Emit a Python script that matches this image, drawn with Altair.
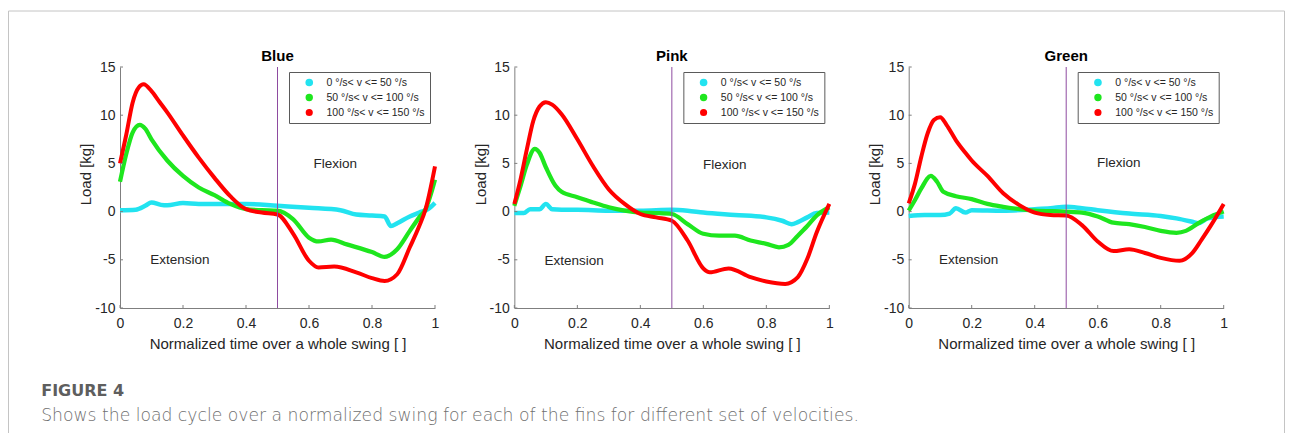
import altair as alt
import pandas as pd

# ---------------- data ----------------
FINS = ["Blue", "Pink", "Green"]
SERIES = ["0 °/s< v <= 50 °/s", "50 °/s< v <= 100 °/s", "100 °/s< v <= 150 °/s"]
COLORS = ["#22e3f0", "#1ee61e", "#ff0000"]
WIDTHS = [4.5, 4, 4]

# Blue fin
blue_slow_x = [0, .05, .08, .1, .13, .15, .2, .25, .3, .4, .5, .6, .7, .75, .8, .84, .86, .88, .92, .95, .98, 1.0]
blue_slow_y = [0.15, 0.2, 0.6, 0.95, 0.7, 0.65, 0.9, 0.8, 0.8, 0.8, 0.6, 0.4, 0.15, -0.3, -0.4, -0.5, -1.5, -1.2, -0.5, -0.1, 0.3, 0.9]
blue_mid_x = [0, .02, .04, .063, .08, .1, .15, .2, .25, .3, .35, .4, .45, .5, .55, .6, .63, .67, .72, .8, .84, .88, .92, .95, .97, 1.0]
blue_mid_y = [3.1, 6.0, 8.2, 9.0, 8.6, 7.5, 5.3, 3.7, 2.5, 1.7, 0.8, 0.25, 0.15, 0.1, -0.8, -2.7, -3.1, -2.9, -3.4, -4.2, -4.7, -3.9, -2.0, -0.6, 0.25, 3.3]
blue_fast_x = [0, .02, .04, .06, .075, .1, .125, .15, .2, .25, .3, .35, .4, .45, .5, .55, .6, .63, .68, .75, .8, .84, .88, .92, .95, .97, 1.0]
blue_fast_y = [5.0, 8.0, 11.3, 12.9, 13.2, 12.5, 11.4, 10.3, 7.9, 5.6, 3.5, 1.6, 0.25, -0.1, -0.3, -2.3, -5.1, -5.8, -5.7, -6.3, -6.9, -7.2, -6.5, -3.7, -1.5, 0.25, 4.7]

# Pink fin
pink_slow_x = [0, .03, .05, .08, .1, .12, .15, .2, .3, .4, .5, .55, .6, .7, .8, .85, .88, .9, .93, .96, 1.0]
pink_slow_y = [-0.15, -0.15, 0.25, 0.25, 0.8, 0.25, 0.2, 0.2, 0.1, 0.1, 0.2, 0.1, -0.1, -0.35, -0.6, -0.95, -1.3, -1.1, -0.6, -0.15, -0.1]
pink_mid_x = [0, .02, .04, .065, .08, .1, .13, .15, .2, .25, .3, .35, .4, .45, .5, .55, .6, .65, .7, .75, .8, .84, .87, .9, .93, .96, 1.0]
pink_mid_y = [0.6, 2.7, 4.9, 6.5, 6.1, 4.6, 2.7, 2.05, 1.5, 0.95, 0.45, 0.1, -0.1, -0.15, -0.25, -1.3, -2.3, -2.5, -2.5, -3.0, -3.35, -3.7, -3.45, -2.5, -1.5, -0.4, 0.45]
pink_fast_x = [0, .02, .04, .06, .08, .1, .12, .15, .2, .25, .3, .35, .4, .45, .5, .55, .6, .62, .68, .75, .8, .86, .9, .93, .96, 1.0]
pink_fast_y = [0.8, 3.4, 6.5, 9.4, 10.9, 11.35, 11.1, 10.1, 7.5, 4.7, 2.3, 0.8, -0.25, -0.6, -0.95, -3.0, -5.9, -6.3, -5.9, -6.8, -7.25, -7.5, -6.8, -4.9, -2.15, 0.8]

# Green fin
green_slow_x = [0, .05, .1, .13, .15, .18, .2, .3, .4, .45, .5, .55, .6, .7, .8, .85, .9, .92, .95, 1.0]
green_slow_y = [-0.45, -0.35, -0.35, -0.2, 0.35, -0.1, 0.15, 0.1, 0.25, 0.35, 0.5, 0.35, 0.15, -0.2, -0.45, -0.7, -1.05, -1.2, -0.7, -0.5]
green_mid_x = [0, .02, .04, .07, .09, .11, .15, .2, .25, .3, .4, .5, .55, .6, .65, .7, .75, .8, .85, .88, .92, .96, 1.0]
green_mid_y = [0.1, 1.2, 2.4, 3.7, 3.1, 2.05, 1.6, 1.3, 0.8, 0.5, 0.1, 0.0, -0.1, -0.5, -1.15, -1.3, -1.6, -2.0, -2.2, -2.0, -1.2, -0.5, 0.0]
green_fast_x = [0, .02, .04, .06, .08, .1, .12, .15, .18, .2, .25, .3, .35, .4, .45, .5, .55, .6, .65, .7, .75, .8, .86, .9, .93, .96, 1.0]
green_fast_y = [0.85, 2.9, 5.7, 8.1, 9.5, 9.8, 9.0, 7.4, 6.1, 5.3, 3.7, 1.9, 0.7, -0.1, -0.35, -0.4, -1.4, -3.1, -4.1, -3.9, -4.3, -4.8, -5.1, -4.3, -2.9, -1.4, 0.8]

CURVES = {
    "Blue": [(blue_slow_x, blue_slow_y), (blue_mid_x, blue_mid_y), (blue_fast_x, blue_fast_y)],
    "Pink": [(pink_slow_x, pink_slow_y), (pink_mid_x, pink_mid_y), (pink_fast_x, pink_fast_y)],
    "Green": [(green_slow_x, green_slow_y), (green_mid_x, green_mid_y), (green_fast_x, green_fast_y)],
}

X_TICKS = [0, 0.2, 0.4, 0.6, 0.8, 1]
Y_TICKS = [-10, -5, 0, 5, 10, 15]
PHASE_SWITCH = [0.5]
ANNOT_LABELS = ["Flexion", "Extension"]
ANNOT_X = {"Blue": [0.683, 0.19], "Pink": [0.668, 0.19], "Green": [0.667, 0.19]}
ANNOT_Y = {"Blue": [4.9, -5.0], "Pink": [4.85, -5.1], "Green": [5.0, -5.0]}

X_TITLE = "Normalized time over a whole swing [ ]"
Y_TITLE = "Load [kg]"
CAPTION_TITLE = "FIGURE 4"
CAPTION_TEXT = "Shows the load cycle over a normalized swing for each of the fins for different set of velocities."

# ---------------- chart ----------------
W, H = 315, 241
FONT = "Liberation Sans"
AX = "#7f7f7f"
TXT = "#262626"
BORDER = "#c4c4c4"
SWITCH_COLOR = "#8e4ba0"

# figure frame / caption, placed relative to the first panel's plot origin
FR_L, FR_T, FR_R, FR_B = -111.5, -56, 1164.5, 366
CAP_X, CAP1_Y, CAP2_Y = -78.8, 324, 349

# legend dots filled with the series colour
SYMBOL_FILL = "[{}][indexof([{}], datum.value)]".format(
    ", ".join("'%s'" % c for c in COLORS), ", ".join("'%s'" % s for s in SERIES))


def panel(fin, with_frame=False):
    rows = []
    for name, (xs, ys) in zip(SERIES, CURVES[fin]):
        for xv, yv in zip(xs, ys):
            rows.append({"series": name, "x": xv, "y": yv})
    df = pd.DataFrame(rows)
    xsc = alt.Scale(domain=[0, 1], nice=False, zero=False)
    ysc = alt.Scale(domain=[-10, 15], nice=False, zero=False)

    lines = alt.Chart(df).mark_line(interpolate="monotone").encode(
        x=alt.X("x:Q", scale=xsc, axis=alt.Axis(
            values=X_TICKS, format="~g", title=X_TITLE, ticks=False, grid=False,
            domainColor=AX, labelFont=FONT, labelFontSize=14, labelColor=TXT,
            labelPadding=8, labelFlush=False, titleFont=FONT, titleFontSize=15,
            titleFontWeight="normal", titleColor=TXT, titlePadding=6)),
        y=alt.Y("y:Q", scale=ysc, axis=alt.Axis(
            values=Y_TICKS, labelExpr="'' + datum.value", title=Y_TITLE,
            ticks=False, grid=False,
            domainColor=AX, labelFont=FONT, labelFontSize=14, labelColor=TXT,
            labelPadding=5, labelFlush=False, titleFont=FONT, titleFontSize=15,
            titleFontWeight="normal", titleColor=TXT, titlePadding=1, titleY=107)),
        color=alt.Color("series:N", sort=SERIES,
                        scale=alt.Scale(domain=SERIES, range=COLORS),
                        legend=alt.Legend(
                            title=None, orient="top-right", offset=5,
                            strokeColor="#5a5a5a", fillColor="white", padding=5,
                            labelFont=FONT, labelFontSize=10.5, labelColor=TXT,
                            symbolType="circle", symbolSize=10, symbolStrokeWidth=0,
                            symbolFillColor=alt.ExprRef(SYMBOL_FILL),
                            symbolOffset=10, labelOffset=12, rowPadding=4,
                            clipHeight=11)),
        strokeWidth=alt.StrokeWidth("series:N", sort=SERIES,
                                    scale=alt.Scale(domain=SERIES, range=WIDTHS),
                                    legend=None),
    )

    vline = alt.Chart(pd.DataFrame({"x": PHASE_SWITCH})).mark_rule(
        color=SWITCH_COLOR, strokeWidth=1).encode(x=alt.X("x:Q", scale=xsc))

    ann = pd.DataFrame({"label": ANNOT_LABELS, "x": ANNOT_X[fin], "y": ANNOT_Y[fin]})
    texts = alt.Chart(ann).mark_text(font=FONT, fontSize=13.5, color=TXT).encode(
        x=alt.X("x:Q", scale=xsc), y=alt.Y("y:Q", scale=ysc), text="label:N")

    xt = alt.Chart(pd.DataFrame({"x": X_TICKS})).mark_rule(color=AX, strokeWidth=1).encode(
        x=alt.X("x:Q", scale=xsc), y=alt.value(H), y2=alt.value(H - 3))
    yt = alt.Chart(pd.DataFrame({"y": Y_TICKS})).mark_rule(color=AX, strokeWidth=1).encode(
        y=alt.Y("y:Q", scale=ysc), x=alt.value(0), x2=alt.value(3))

    title = alt.Chart(pd.DataFrame({"t": [fin]})).mark_text(
        font=FONT, fontSize=15, fontWeight="bold", color="#000000",
        baseline="alphabetic", align="center").encode(
        x=alt.value(W / 2), y=alt.value(-6), text="t:N")

    layers = [lines, vline, texts, xt, yt, title]
    if with_frame:
        one = pd.DataFrame({"k": [0]})
        layers += [
            alt.Chart(one).mark_rule(color=BORDER, strokeWidth=1).encode(
                x=alt.value(FR_L), y=alt.value(FR_T), y2=alt.value(FR_B)),
            alt.Chart(one).mark_rule(color=BORDER, strokeWidth=1).encode(
                x=alt.value(FR_L), x2=alt.value(FR_R), y=alt.value(FR_T)),
            alt.Chart(one).mark_rule(color=BORDER, strokeWidth=1).encode(
                x=alt.value(FR_R), y=alt.value(FR_T), y2=alt.value(FR_B)),
            alt.Chart(pd.DataFrame({"t": [CAPTION_TITLE]})).mark_text(
                align="left", baseline="middle", font="DejaVu Sans", fontSize=16,
                fontWeight="bold", color="#5e5e5e").encode(
                x=alt.value(CAP_X), y=alt.value(CAP1_Y), text="t:N"),
            alt.Chart(pd.DataFrame({"t": [CAPTION_TEXT]})).mark_text(
                align="left", baseline="middle", font="DejaVu Sans", fontSize=17.2,
                fontWeight=300, color="#707070").encode(
                x=alt.value(CAP_X), y=alt.value(CAP2_Y), text="t:N"),
        ]

    return alt.layer(*layers).properties(width=W, height=H)


p1 = panel("Blue", with_frame=True)
p2 = panel("Pink")
p3 = panel("Green")

chart = alt.hconcat(p1, p2, p3, spacing=79.35, bounds="flush").resolve_scale(
    color="independent", strokeWidth="independent").resolve_legend(
    color="independent").properties(
    padding={"left": 0, "top": 2, "right": 0, "bottom": 0}).configure_view(stroke=None)

chart.save("out.html", embed_options={"renderer": "svg", "actions": False})
